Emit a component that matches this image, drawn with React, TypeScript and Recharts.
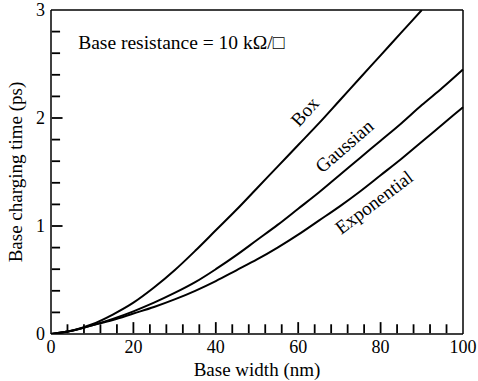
import { LineChart, Line, XAxis, YAxis, ReferenceLine, ReferenceDot } from 'recharts';

const widths = [0, 5, 10, 15, 20, 25, 30, 35, 40, 45, 50, 55, 60, 65, 70, 75, 80, 85, 90, 95, 100];
const boxTime = [0, 0.03, 0.09, 0.18, 0.29, 0.43, 0.59, 0.77, 0.96, 1.15, 1.35, 1.55, 1.75, 1.95, 2.16, 2.37, 2.58, 2.79, 3.0, null, null];
const gaussianTime = [0, 0.03, 0.08, 0.14, 0.21, 0.29, 0.38, 0.48, 0.6, 0.73, 0.87, 1.01, 1.16, 1.31, 1.47, 1.63, 1.79, 1.95, 2.12, 2.28, 2.45];
const exponentialTime = [0, 0.03, 0.08, 0.13, 0.19, 0.25, 0.32, 0.4, 0.49, 0.59, 0.69, 0.8, 0.92, 1.05, 1.18, 1.32, 1.47, 1.62, 1.78, 1.94, 2.1];

const xTicks = [0, 4, 8, 12, 16, 20, 24, 28, 32, 36, 40, 44, 48, 52, 56, 60, 64, 68, 72, 76, 80, 84, 88, 92, 96, 100];
const xLabels = [0, 20, 40, 60, 80, 100];
const yTicks = [0, 0.2, 0.4, 0.6, 0.8, 1, 1.2, 1.4, 1.6, 1.8, 2, 2.2, 2.4, 2.6, 2.8, 3];
const yLabels = [0, 1, 2, 3];

const curveLabels = [
  { text: 'Box', x: 61.6, y: 2.06, angle: -48 },
  { text: 'Gaussian', x: 71.2, y: 1.74, angle: -41 },
  { text: 'Exponential', x: 78.4, y: 1.22, angle: -37 },
];

const data = widths.map((w, i) => ({
  w,
  box: boxTime[i],
  gaussian: gaussianTime[i],
  exponential: exponentialTime[i],
}));

const FONT = '"Liberation Serif", "Times New Roman", Times, serif';

// inward tick lengths in data units (~4.12 px per nm, ~107.7 px per ps)
const xTickLen = (v: number) => (xLabels.includes(v) ? 0.11 : 0.09);
const yTickLen = (v: number) => (yLabels.includes(Math.round(v * 10) / 10) ? 2.8 : 2.2);
const EPS_Y = 0.008;
const EPS_X = 0.2;

const XTick = (props: any) => {
  const { x, y, payload } = props;
  const v = payload.value;
  if (!xLabels.includes(v)) return <g />;
  return (
    <text x={x} y={y + 19} textAnchor="middle" fontSize={18} fontFamily={FONT} fill="#000">
      {v}
    </text>
  );
};

const YTick = (props: any) => {
  const { x, y, payload } = props;
  const v = Math.round(payload.value * 10) / 10;
  if (!yLabels.includes(v)) return <g />;
  return (
    <text x={x - 6} y={y + 6} textAnchor="end" fontSize={18} fontFamily={FONT} fill="#000">
      {v}
    </text>
  );
};

export default function App() {
  return (
    <div style={{ position: 'absolute', left: 0, top: 0, background: '#fff' }}>
      <LineChart
        width={478}
        height={381}
        data={data}
        margin={{ top: 10, right: 15, left: 0, bottom: 0 }}
      >
        <XAxis
          dataKey="w"
          type="number"
          domain={[0, 100]}
          ticks={xTicks}
          interval={0}
          tickSize={0}
          tickMargin={0}
          tick={<XTick />}
          height={47}
          axisLine={{ stroke: '#000', strokeWidth: 1.5 }}
          tickLine={false}
          label={{ value: 'Base width (nm)', position: 'insideBottom', offset: 5, fontSize: 19, fontFamily: FONT, fill: '#000' }}
        />
        <YAxis
          type="number"
          domain={[0, 3]}
          ticks={yTicks}
          interval={0}
          tickSize={0}
          tickMargin={0}
          tick={<YTick />}
          width={51}
          allowDataOverflow
          axisLine={{ stroke: '#000', strokeWidth: 1.5 }}
          tickLine={false}
          label={{ value: 'Base charging time (ps)', angle: -90, position: 'insideLeft', offset: 15, style: { textAnchor: 'middle' }, fontSize: 19, fontFamily: FONT, fill: '#000' }}
        />
        {xTicks.filter((v) => v > 0 && v < 100).map((v) => (
          <ReferenceLine
            key={`xt${v}`}
            segment={[{ x: v, y: EPS_Y }, { x: v, y: xTickLen(v) }]}
            ifOverflow="visible"
            stroke="#000"
            strokeWidth={1.8}
          />
        ))}
        {yTicks.filter((v) => v > 0 && v < 3).map((v) => (
          <ReferenceLine
            key={`yt${v}`}
            segment={[{ x: EPS_X, y: v }, { x: yTickLen(v), y: v }]}
            ifOverflow="visible"
            stroke="#000"
            strokeWidth={1.8}
          />
        ))}
        <ReferenceLine y={3} stroke="#000" strokeWidth={1.5} />
        <ReferenceLine x={100} stroke="#000" strokeWidth={1.5} />
        <Line type="monotone" dataKey="box" stroke="#000" strokeWidth={2} dot={false} isAnimationActive={false} />
        <Line type="monotone" dataKey="gaussian" stroke="#000" strokeWidth={2} dot={false} isAnimationActive={false} />
        <Line type="monotone" dataKey="exponential" stroke="#000" strokeWidth={2} dot={false} isAnimationActive={false} />
        <ReferenceDot
          x={6.6}
          y={2.7}
          r={0}
          fill="none"
          stroke="none"
          label={(p: any) => (
            <text x={p.viewBox.x} y={p.viewBox.y + 7} fontSize={19.5} fontFamily={FONT} fill="#000">
              Base resistance = 10 kΩ/□
            </text>
          )}
        />
        {curveLabels.map((c) => (
          <ReferenceDot
            key={c.text}
            x={c.x}
            y={c.y}
            r={0}
            fill="none"
            stroke="none"
            label={(p: any) => (
              <text
                x={p.viewBox.x}
                y={p.viewBox.y}
                transform={`rotate(${c.angle} ${p.viewBox.x} ${p.viewBox.y})`}
                textAnchor="middle"
                dominantBaseline="central"
                fontSize={19}
                fontFamily={FONT}
                fill="#000"
              >
                {c.text}
              </text>
            )}
          />
        ))}
      </LineChart>
    </div>
  );
}
